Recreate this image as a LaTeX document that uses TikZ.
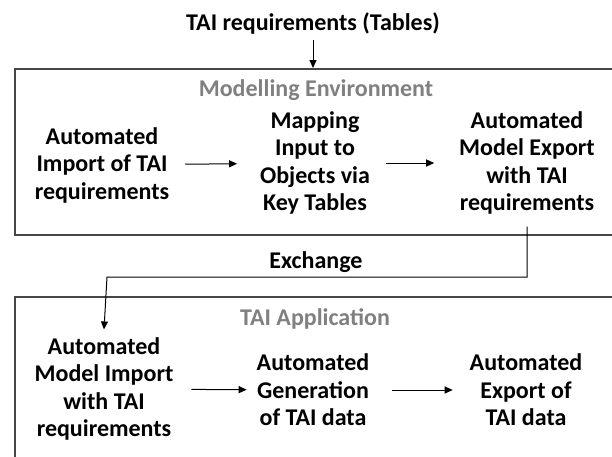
\documentclass[tikz,border=0pt]{standalone}
\usepackage{fontspec}
\setmainfont{Carlito}
\usepackage{xcolor}
\usetikzlibrary{arrows.meta,calc}
\definecolor{framegrey}{RGB}{70,70,70}
\definecolor{labelgrey}{RGB}{128,128,128}
\tikzset{
  stepnode/.style ={align=center, font=\fontsize{24}{27.5}\selectfont\bfseries,
                    inner sep=0pt, outer sep=0pt},
  grplbl/.style   ={font=\fontsize{24}{27.5}\selectfont\bfseries, text=labelgrey},
  frame/.style    ={draw=framegrey, line width=1.5pt, anchor=north west,
                    minimum width=640pt},
  ar/.style       ={-{Triangle[length=8pt,width=7pt]}, line width=1pt},
}
\begin{document}
\begin{tikzpicture}[x=1pt,y=-1pt]
\useasboundingbox (0,0) rectangle (612,456);

% input tables
\node[stepnode] (tab) at (313,23) {TAI requirements (Tables)};

% modelling environment
\node[frame, minimum height=166pt] (envbox) at (14,68) {};
\node[grplbl] (envlbl) at (316,90) {Modelling Environment};
\node[stepnode] (imp)  at (102,165) {Automated\\Import of TAI\\requirements};
\node[stepnode] (map)  at (315,163) {Mapping\\Input to\\Objects via\\Key Tables};
\node[stepnode] (mexp) at (527,163) {Automated\\Model Export\\with TAI\\requirements};

% TAI application
\node[frame, minimum height=200pt] (appbox) at (14,296) {};
\node[grplbl] (applbl) at (315,319) {TAI Application};
\node[stepnode] (mimp) at (104,389) {Automated\\Model Import\\with TAI\\requirements};
\node[stepnode] (gen)  at (313,390) {Automated\\Generation\\of TAI data};
\node[stepnode] (texp) at (526,390) {Automated\\Export of\\TAI data};

% exchange between the two
\node[stepnode] (xchg) at (316,262) {Exchange};
\coordinate (xbend) at (107,277);

\draw[ar] ([yshift=-6pt]tab.south) -- (tab.south |- envbox.north);
\draw[ar, shorten <=16pt, shorten >=23pt] (imp) -- (map);
\draw[ar, shorten <=16pt, shorten >=25pt] (map) -- (mexp);
\draw[ar] ([yshift=-12pt]mexp.south) |- (xbend) -- ([yshift=8pt]mimp.north);
\draw[ar, shorten <=18pt, shorten >=10pt] (mimp) -- (gen);
\draw[ar, shorten <=23pt, shorten >=17pt] (gen) -- (texp);
\end{tikzpicture}
\end{document}
